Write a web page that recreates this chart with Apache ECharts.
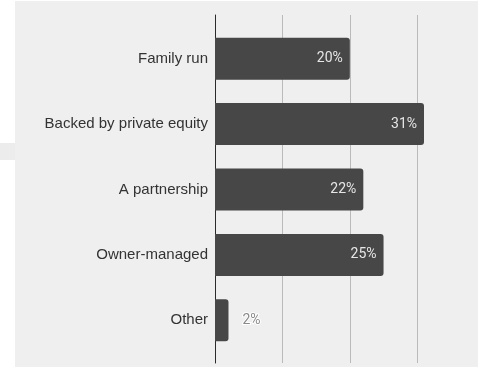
<!DOCTYPE html>
<html>
<head>
<meta charset="utf-8">
<script src="https://cdn.jsdelivr.net/npm/echarts@6/dist/echarts.min.js"></script>
<style>
  html, body { margin: 0; padding: 0; background: #ffffff; }
  #chart { width: 481px; height: 385px; }
</style>
</head>
<body>
<div id="chart"></div>
<script>
// Ownership structure shares, in percent
const categories = ['Family run', 'Backed by private equity', 'A partnership', 'Owner-managed', 'Other'];
const shares = [20, 31, 22, 25, 2];
const valueTicks = [0, 10, 20, 30];
const valueMax = 31;

const chart = echarts.init(document.getElementById('chart'), null, { renderer: 'canvas' });

const barColor = '#474747';
const labelFont = '"Liberation Sans", Arial, sans-serif';
const valueFont = 'Roboto, "Noto Sans", sans-serif';

// bars too short to hold their label put it just outside, with a halo
const seriesData = shares.map(function (v) {
  if (v < 5) {
    return {
      value: v,
      label: {
        position: 'right',
        distance: 14,
        color: '#8a8a8a',
        textBorderColor: '#ffffff',
        textBorderWidth: 2
      }
    };
  }
  return v;
});

const plotLeft = 215;
const plotWidth = 209;

const option = {
  backgroundColor: '#ffffff',
  animation: false,
  graphic: [
    {
      type: 'rect', z: -10, silent: true,
      shape: { x: 15, y: 1, width: 463, height: 366 },
      style: { fill: '#efefef' }
    },
    {
      type: 'rect', z: -10, silent: true,
      shape: { x: 0, y: 143, width: 15, height: 17 },
      style: { fill: '#ececec' }
    }
  ],
  grid: [
    { left: plotLeft, top: 15, width: plotWidth, height: 348 },
    { left: plotLeft, top: 26, width: plotWidth, height: 327 }
  ],
  xAxis: [
    {
      gridIndex: 0, type: 'value',
      min: valueTicks[0], max: valueMax,
      interval: valueTicks[1] - valueTicks[0],
      axisLine: { show: false }, axisTick: { show: false }, axisLabel: { show: false },
      splitLine: { show: true, showMaxLine: false, lineStyle: { color: '#bababa', width: 1 } }
    },
    {
      gridIndex: 1, type: 'value',
      min: valueTicks[0], max: valueMax,
      show: false, splitLine: { show: false }
    }
  ],
  yAxis: [
    {
      gridIndex: 0, type: 'category', data: categories, inverse: true,
      axisLine: { show: true, lineStyle: { color: '#2b2b2b', width: 1 } },
      axisTick: { show: false }, axisLabel: { show: false },
      splitLine: { show: false }
    },
    {
      gridIndex: 1, type: 'category', data: categories, inverse: true,
      axisLine: { show: false }, axisTick: { show: false },
      axisLabel: {
        color: '#333333', fontSize: 15, fontFamily: labelFont, margin: 7
      }
    }
  ],
  series: [
    {
      type: 'bar',
      xAxisIndex: 1, yAxisIndex: 1,
      data: seriesData,
      barWidth: 42,
      itemStyle: { color: barColor, borderRadius: [0, 3, 3, 0] },
      label: {
        show: true,
        position: 'insideRight',
        distance: 7,
        formatter: '{c}%',
        color: '#e6e6e6',
        fontSize: 14,
        fontFamily: valueFont
      }
    }
  ]
};

chart.setOption(option);
</script>
</body>
</html>
